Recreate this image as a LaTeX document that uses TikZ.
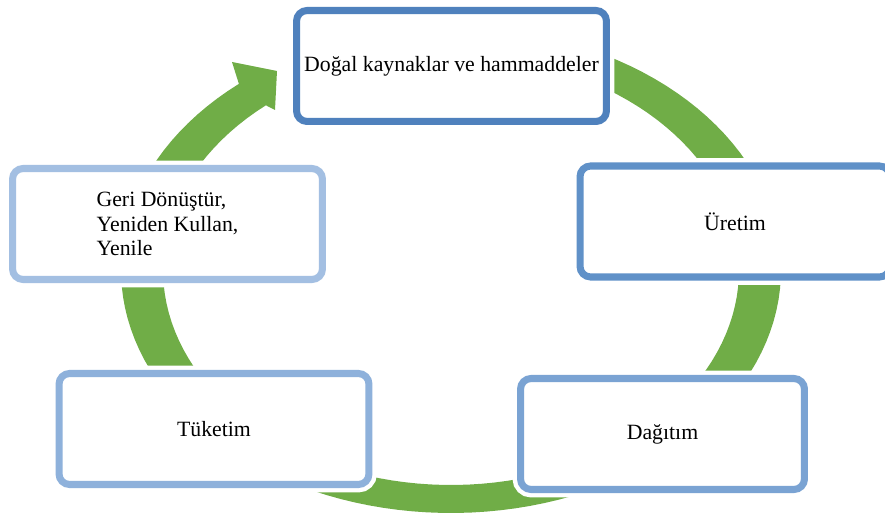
\documentclass[tikz,border=0pt]{standalone}
\usepackage{fontspec}
\setmainfont{Liberation Serif}
\definecolor{ringgreen}{RGB}{112,173,71}
\definecolor{blueA}{RGB}{79,129,189}
\definecolor{blueB}{RGB}{96,145,200}
\definecolor{blueC}{RGB}{122,163,211}
\definecolor{blueD}{RGB}{142,177,219}
\definecolor{blueE}{RGB}{163,191,226}
\tikzset{
    stage/.style={draw=#1, fill=white, rounded corners=6pt, line width=4pt,
        minimum width=6.2cm, minimum height=2.22cm, align=left,
        font=\fontsize{12.4}{14}\selectfont,
        preaction={draw=white, line width=9pt}},
}
\begin{document}
\begin{tikzpicture}[x=0.02cm, y=-0.02cm]
        \useasboundingbox (0,0) rectangle (885,516);

        % Ring arrow
        \fill[ringgreen]
            plot[variable=\t, domain=0:305, samples=120] ({451+330*cos(75-\t)},{270-243*sin(75-\t)})
            -- (232,62) -- (277,71) -- (275,110)
            -- plot[variable=\t, domain=0:305, samples=120] ({451+288*cos(-230+\t)},{270-215*sin(-230+\t)})
            -- cycle;

        % Stages
        \node[stage=blueA] (dogal) at (451.5,66) {Doğal kaynaklar ve hammaddeler};
        \node[stage=blueB] (uretim) at (735,221.5) {Üretim};
        \node[stage=blueC, minimum width=5.68cm] (dagitim) at (662.5,434) {Dağıtım};
        \node[stage=blueD] (tuketim) at (214,429) {Tüketim};
        \node[stage=blueE] (geri) at (167.5,224) {Geri Dönüştür,\\Yeniden Kullan,\\Yenile};
    \end{tikzpicture}
\end{document}
